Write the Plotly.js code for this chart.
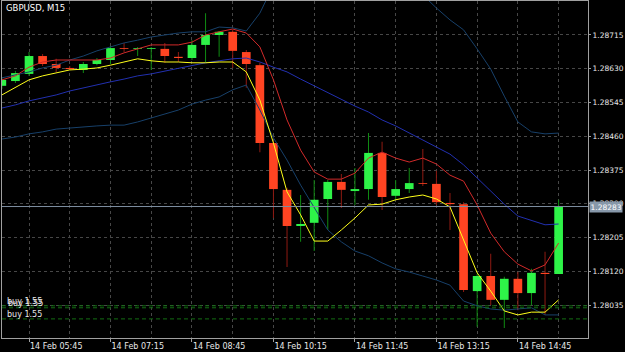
<!DOCTYPE html>
<html>
<head>
<meta charset="utf-8">
<script src="https://cdn.plot.ly/plotly-3.0.1.min.js"></script>
<style>html,body{margin:0;padding:0;background:#000;}#chart{width:625px;height:352px;}</style>
</head>
<body>
<div id="chart"></div>
<script>
// ---- data (GBPUSD M15, 14 Feb) ----
const times = ["05:15","05:30","05:45","06:00","06:15","06:30","06:45","07:00","07:15","07:30","07:45","08:00","08:15","08:30","08:45","09:00","09:15","09:30","09:45","10:00","10:15","10:30","10:45","11:00","11:15","11:30","11:45","12:00","12:15","12:30","12:45","13:00","13:15","13:30","13:45","14:00","14:15","14:30","14:45","15:00","15:15","15:30"];
const openP  = [1.28587,1.28599,1.28617,1.28662,1.28642,1.28632,1.28627,1.28642,1.28652,1.28682,1.28680,1.28680,1.28680,1.28660,1.28657,1.28690,1.28715,1.28723,1.28672,1.28639,1.28443,1.28325,1.28234,1.28242,1.28302,1.28345,1.28322,1.28327,1.28418,1.28310,1.28327,1.28342,1.28340,1.28292,1.28289,1.28070,1.28108,1.28048,1.28101,1.28065,1.28116,1.28113];
const highP  = [1.28609,1.28624,1.28672,1.28667,1.28655,1.28637,1.28647,1.28657,1.28687,1.28695,1.28685,1.28685,1.28695,1.28672,1.28702,1.28770,1.28725,1.28728,1.28677,1.28645,1.28448,1.28330,1.28312,1.28350,1.28350,1.28365,1.28380,1.28468,1.28446,1.28350,1.28380,1.28428,1.28373,1.28317,1.28294,1.28113,1.28164,1.28106,1.28118,1.28126,1.28169,1.28300];
const lowP   = [1.28579,1.28594,1.28612,1.28637,1.28622,1.28627,1.28619,1.28639,1.28642,1.28672,1.28662,1.28627,1.28645,1.28647,1.28652,1.28645,1.28660,1.28632,1.28582,1.28420,1.28254,1.28131,1.28194,1.28171,1.28224,1.28279,1.28287,1.28300,1.28274,1.28300,1.28317,1.28335,1.28287,1.28224,1.28068,1.27980,1.28035,1.27977,1.28022,1.28035,1.28010,1.28113];
const closeP = [1.28602,1.28619,1.28662,1.28642,1.28632,1.28629,1.28642,1.28652,1.28682,1.28680,1.28682,1.28682,1.28662,1.28657,1.28690,1.28715,1.28723,1.28675,1.28642,1.28443,1.28327,1.28234,1.28239,1.28300,1.28345,1.28325,1.28327,1.28418,1.28307,1.28327,1.28342,1.28340,1.28294,1.28289,1.28073,1.28108,1.28048,1.28101,1.28065,1.28116,1.28113,1.28283];

const maFast = [1.28564,1.28582,1.28602,1.28612,1.28619,1.28627,1.28629,1.28632,1.28639,1.28647,1.28655,1.28650,1.28647,1.28647,1.28645,1.28645,1.28647,1.28647,1.28622,1.28551,1.28443,1.28320,1.28262,1.28196,1.28196,1.28224,1.28254,1.28287,1.28289,1.28300,1.28307,1.28312,1.28302,1.28282,1.28199,1.28116,1.28070,1.28020,1.28010,1.28017,1.28017,1.28048];
const maSlow = [1.28602,1.28612,1.28634,1.28647,1.28652,1.28652,1.28652,1.28652,1.28657,1.28670,1.28680,1.28690,1.28690,1.28690,1.28697,1.28715,1.28723,1.28730,1.28720,1.28685,1.28602,1.28501,1.28425,1.28370,1.28352,1.28352,1.28367,1.28405,1.28420,1.28405,1.28395,1.28405,1.28390,1.28362,1.28347,1.28287,1.28216,1.28169,1.28138,1.28121,1.28136,1.28191];
const bandUpper = [1.28607,1.28614,1.28622,1.28632,1.28639,1.28652,1.28662,1.28675,1.28685,1.28695,1.28702,1.28710,1.28715,1.28720,1.28723,1.28723,1.28735,1.28733,1.28725,1.28770,1.28841,1.28891,1.28929,1.28954,1.28967,1.28967,1.28959,1.28942,1.28917,1.28879,1.28849,1.28816,1.28783,1.28753,1.28728,1.28680,1.28629,1.28561,1.28496,1.28471,1.28466,1.28468];
const bandMiddle = [1.28531,1.28539,1.28549,1.28556,1.28564,1.28574,1.28582,1.28589,1.28597,1.28604,1.28612,1.28617,1.28624,1.28632,1.28639,1.28645,1.28650,1.28655,1.28657,1.28647,1.28634,1.28622,1.28604,1.28587,1.28569,1.28551,1.28536,1.28521,1.28501,1.28486,1.28468,1.28451,1.28433,1.28415,1.28388,1.28355,1.28322,1.28289,1.28259,1.28247,1.28237,1.28239];
const bandLower = [1.28453,1.28458,1.28466,1.28471,1.28478,1.28481,1.28483,1.28486,1.28488,1.28488,1.28496,1.28506,1.28516,1.28526,1.28541,1.28551,1.28559,1.28577,1.28589,1.28526,1.28456,1.28400,1.28337,1.28279,1.28224,1.28194,1.28171,1.28159,1.28141,1.28126,1.28118,1.28108,1.28098,1.28085,1.28045,1.28033,1.28025,1.28022,1.28025,1.28028,1.28010,1.28010];

const yTicks = [1.28035,1.28120,1.28205,1.28290,1.28375,1.28460,1.28545,1.28630,1.28715];
const bidPrice = 1.28283;
const buyLevels = [1.28033,1.28028,1.28000];
const buyLabels = ["buy 1.55","buy 1.55","buy 1.55"];
const chartTitle = "GBPUSD, M15";
const day = "2019-02-14 ";

// ---- build ----
const x = times.map(t => day + t);
const isUp = closeP.map((c, i) => c >= openP[i]);
const BAR_MS = 900000;
const FONT = "DejaVu Sans";
const GRID = "#474747";
const FRAME = "#a0a0a0";

const wicks = {
  type: "bar", x: x, base: lowP, y: highP.map((h, i) => h - lowP[i]),
  width: x.map(() => BAR_MS * 0.074),
  marker: {color: isUp.map(u => u ? "#0f8a12" : "#8e1a12"), line: {width: 0}},
  hoverinfo: "skip"
};
const bodies = {
  type: "bar", x: x, base: openP, y: closeP.map((c, i) => c - openP[i]),
  width: x.map(() => BAR_MS * 0.64),
  marker: {color: isUp.map(u => u ? "#2ef348" : "#ff4422"), line: {width: 0}},
  hoverinfo: "skip"
};
const line = (y, color) => ({type: "scatter", mode: "lines", x: x, y: y, line: {color: color, width: 1}, hoverinfo: "skip"});

const data = [
  wicks, bodies,
  line(bandUpper, "#17406a"),
  line(bandLower, "#17406a"),
  line(bandMiddle, "#2230b0"),
  line(maSlow, "#d22a2a"),
  line(maFast, "#ffff1a")
];

const shapes = [
  {type: "line", xref: "paper", x0: 0, x1: 1, yref: "y", y0: bidPrice, y1: bidPrice, line: {color: "#7d8ea0", width: 1}}
].concat(buyLevels.map(v => ({
  type: "line", xref: "paper", x0: 0, x1: 1, yref: "y", y0: v, y1: v,
  line: {color: "#136e13", width: 1, dash: "4px,3px"}
})));

const annotations = [
  {xref: "paper", yref: "paper", x: 0, y: 1, xanchor: "left", yanchor: "top", xshift: 2, yshift: 0,
   text: chartTitle, showarrow: false, font: {family: FONT, size: 8.5, color: "#ffffff"}},
  {xref: "paper", yref: "y", x: 1, y: bidPrice, xanchor: "left", yanchor: "middle", xshift: 1,
   text: bidPrice.toFixed(5), showarrow: false, bgcolor: "#8798aa", borderpad: 0.5,
   font: {family: FONT, size: 7.5, color: "#ffffff"}}
].concat(buyLevels.map((v, k) => ({
  xref: "paper", yref: "y", x: 0, y: v, xanchor: "left", yanchor: "middle",
  xshift: 3 + (k === 1 ? 1 : 0), yshift: 4,
  text: buyLabels[k], showarrow: false, font: {family: FONT, size: 8, color: "#e8e8e8"}
})));

const layout = {
  width: 625, height: 352,
  paper_bgcolor: "#000000", plot_bgcolor: "#000000",
  margin: {l: 2, r: 37, t: 1, b: 14, pad: 0},
  showlegend: false, barmode: "overlay", hovermode: false,
  xaxis: {
    type: "date",
    range: [day + "05:15:10", day + "16:02:27"],
    tick0: day + "05:45", dtick: 5400000,
    tickformat: "%d %b %H:%M",
    ticklabelposition: "outside right",
    ticks: "outside", ticklen: 3, tickcolor: FRAME,
    tickfont: {family: FONT, size: 8, color: "#e8e8e8"},
    showgrid: true, gridcolor: GRID, griddash: "3px,3px", gridwidth: 1,
    minor: {tick0: day + "05:45", dtick: 2700000, showgrid: true, gridcolor: GRID, griddash: "3px,3px", ticks: ""},
    showline: true, mirror: true, linecolor: FRAME, linewidth: 1,
    zeroline: false, fixedrange: true
  },
  yaxis: {
    side: "right",
    range: [1.279519, 1.288006],
    tickmode: "array", tickvals: yTicks, tickformat: ".5f",
    ticks: "outside", ticklen: 2, tickcolor: FRAME,
    tickfont: {family: FONT, size: 7.5, color: "#e8e8e8"},
    showgrid: true, gridcolor: GRID, griddash: "3px,3px", gridwidth: 1,
    showline: true, mirror: true, linecolor: FRAME, linewidth: 1,
    zeroline: false, fixedrange: true
  },
  shapes: shapes,
  annotations: annotations
};

Plotly.newPlot("chart", data, layout, {staticPlot: true, displayModeBar: false});
</script>
</body>
</html>
